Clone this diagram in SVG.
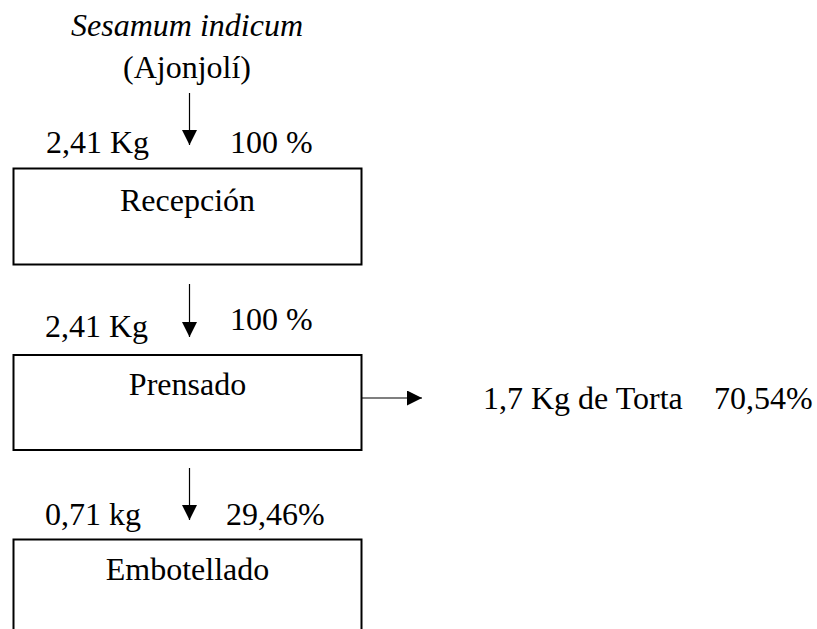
<svg xmlns="http://www.w3.org/2000/svg" width="817" height="629" viewBox="0 0 817 629">
<style>
text{font-family:"Liberation Serif","Times New Roman",serif;font-size:32px;fill:#000}
.c{text-anchor:middle}
.box{fill:#fff;stroke:#000;stroke-width:2}
.ln{stroke:#000;stroke-width:1.2;fill:none}
</style>
<defs>
<marker id="ah" markerWidth="16" markerHeight="16" refX="15" refY="7.5" orient="auto" markerUnits="userSpaceOnUse">
<path d="M0,0 L15,7.5 L0,15 Z" fill="#000"/>
</marker>
</defs>
<rect width="817" height="629" fill="#fff"/>
<g id="source">
<text class="c" x="187" y="36" font-style="italic">Sesamum indicum</text>
<text class="c" x="187" y="78">(Ajonjolí)</text>
</g>
<g id="connectors">
<line class="ln" x1="189.5" y1="93" x2="189.5" y2="145" marker-end="url(#ah)"/>
<line class="ln" x1="189.5" y1="284" x2="189.5" y2="337" marker-end="url(#ah)"/>
<line class="ln" x1="189.5" y1="468" x2="189.5" y2="520" marker-end="url(#ah)"/>
<line class="ln" x1="362" y1="398" x2="422" y2="398" marker-end="url(#ah)"/>
</g>
<g id="labels">
<text x="46" y="153">2,41 Kg</text>
<text x="230" y="153">100 %</text>
<text x="45" y="337">2,41 Kg</text>
<text x="230" y="330">100 %</text>
<text x="45" y="525">0,71 kg</text>
<text x="226" y="525">29,46%</text>
</g>
<g id="recepcion">
<rect class="box" x="13.5" y="168.5" width="348" height="96"/>
<text class="c" x="187.5" y="211">Recepción</text>
</g>
<g id="prensado">
<rect class="box" x="13.5" y="355" width="348" height="95"/>
<text class="c" x="187.5" y="395">Prensado</text>
</g>
<g id="embotellado">
<rect class="box" x="13.5" y="539.5" width="348" height="100"/>
<text class="c" x="187.5" y="580">Embotellado</text>
</g>
<g id="torta">
<text x="483" y="409">1,7 Kg de Torta<tspan x="714">70,54%</tspan></text>
</g>
</svg>
